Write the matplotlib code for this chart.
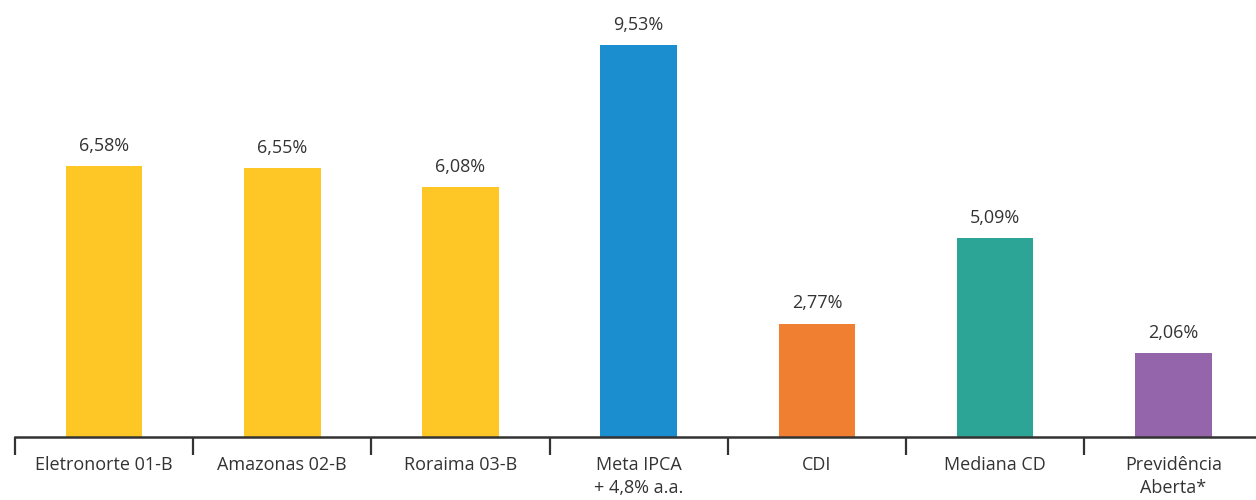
import matplotlib
matplotlib.use('Agg')
import matplotlib.pyplot as plt
import numpy as np

plt.rcParams['font.family'] = ['Open Sans', 'DejaVu Sans']

categorias = ['Eletronorte 01-B', 'Amazonas 02-B', 'Roraima 03-B',
              'Meta IPCA\n+ 4,8% a.a.', 'CDI', 'Mediana CD', 'Previdência\nAberta*']
# alturas das barras (a de Mediana CD esta abaixo do rotulo)
valores = [6.58, 6.55, 6.08, 9.53, 2.76, 4.84, 2.05]
rotulos = ['6,58%', '6,55%', '6,08%', '9,53%', '2,77%', '5,09%', '2,06%']
cores = ['#FFC726', '#FFC726', '#FFC726', '#1B8ECF', '#F07F31', '#2DA596', '#9465AB']

fig = plt.figure(figsize=(12.56, 5.0), dpi=100)
ax = fig.add_axes([15 / 1256, 63 / 500, 1 - 15 / 1256, 437 / 500])

x = np.arange(len(categorias))
barras = ax.bar(x, valores, width=0.43, color=cores)

for b, v, r in zip(barras, valores, rotulos):
    ax.annotate(r, (b.get_x() + b.get_width() / 2, v),
                xytext=(0, 8), textcoords='offset points', ha='center', va='bottom',
                fontsize=13, color='#333333')

# ticks nas divisas entre categorias, rotulos no centro
ax.set_xticks(np.arange(len(categorias) + 1) - 0.5)
ax.set_xticklabels([])
ax.set_xticks(x, minor=True)
ax.set_xticklabels(categorias, minor=True, fontsize=13, color='#333333', linespacing=1.3)
ax.tick_params(axis='x', which='major', length=13, width=1.6, color='#333333', direction='out')
ax.tick_params(axis='x', which='minor', length=0, pad=14)
ax.set_yticks([])

ax.set_xlim(-0.5, -0.5 + 1241 / 178.2)
ax.set_ylim(0, 10.63)

for s in ['top', 'right', 'left']:
    ax.spines[s].set_visible(False)
ax.spines['bottom'].set_linewidth(1.8)
ax.spines['bottom'].set_color('#333333')

fig.savefig('out.png', dpi=100)
